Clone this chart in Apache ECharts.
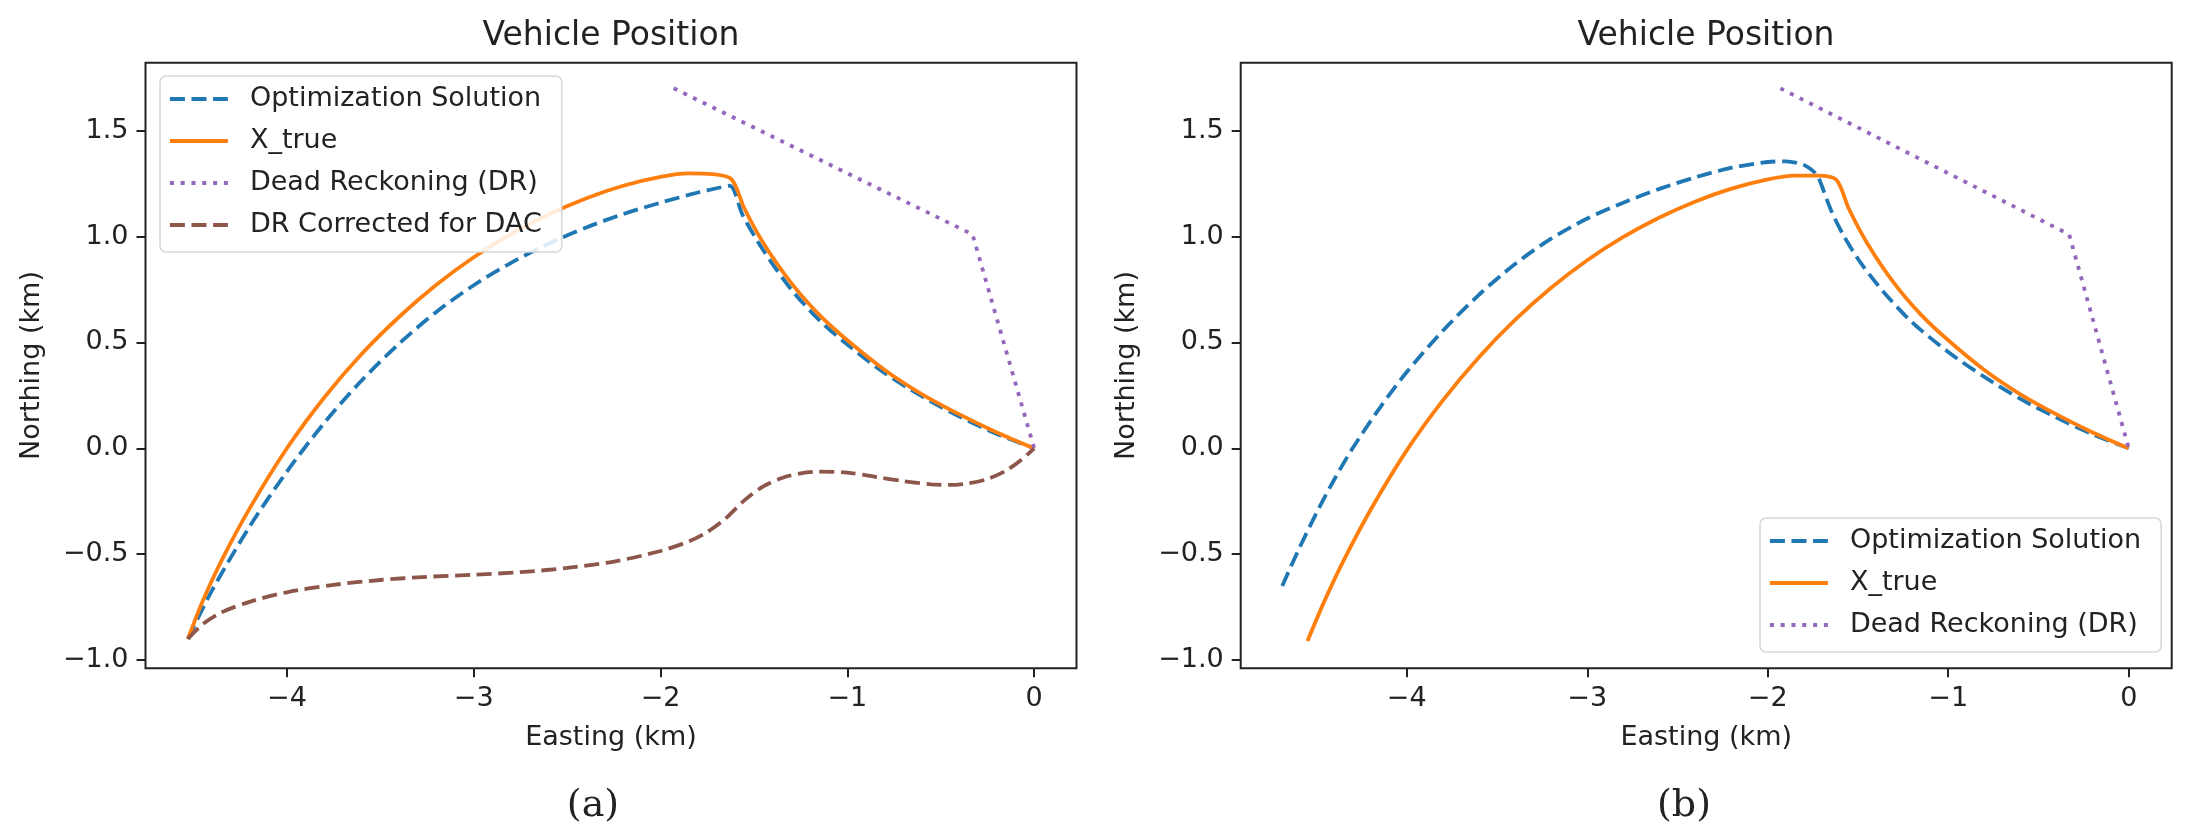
<!DOCTYPE html>
<html>
<head>
<meta charset="utf-8">
<title>Vehicle Position</title>
<script src="https://cdn.jsdelivr.net/npm/echarts@6/dist/echarts.min.js"></script>
<style>
html, body { margin: 0; padding: 0; background: #fff; }
#main { width: 2189px; height: 824px; }
</style>
</head>
<body>
<div id="main"></div>
<script>
// ---- data, km (easting, northing) ----
var xTicks = [-4, -3, -2, -1, 0];
var yTicks = [-1.0, -0.5, 0.0, 0.5, 1.0, 1.5];
var seriesNames = ['Optimization Solution', 'X_true', 'Dead Reckoning (DR)', 'DR Corrected for DAC'];
var captions = ['(a)', '(b)'];

// panel (a)
var optA = [[-4.53,-0.90],[-4.4,-0.67],[-4.2,-0.37],[-4.0,-0.11],[-3.8,0.12],[-3.6,0.32],[-3.4,0.494],[-3.2,0.644],
  [-3.0,0.77],[-2.8,0.876],[-2.6,0.966],[-2.4,1.042],[-2.2,1.106],[-2.0,1.16],[-1.8,1.208],[-1.7,1.228],[-1.63,1.24],
  [-1.56,1.10],[-1.45,0.935],[-1.3,0.75],[-1.15,0.605],[-1.0,0.49],[-0.8,0.355],[-0.6,0.245],[-0.4,0.15],[-0.2,0.068],[0,0]];
var trueA = [[-4.53,-0.90],[-4.45,-0.72],[-4.35,-0.53],[-4.2,-0.285],[-4.0,0.0],[-3.8,0.24],[-3.6,0.445],[-3.4,0.62],
  [-3.2,0.772],[-3.0,0.902],[-2.8,1.012],[-2.6,1.104],[-2.4,1.18],[-2.2,1.24],[-2.0,1.282],[-1.85,1.298],[-1.72,1.295],[-1.62,1.27],
  [-1.55,1.13],[-1.45,0.97],[-1.3,0.78],[-1.15,0.63],[-1.0,0.51],[-0.8,0.37],[-0.6,0.255],[-0.4,0.16],[-0.2,0.075],[0,0]];
var drA = [[-1.93,1.70],[-0.33,1.01],[0,0]];
var dacA = [[-4.53,-0.90],[-4.45,-0.83],[-4.35,-0.775],[-4.2,-0.725],[-4.0,-0.68],[-3.75,-0.645],[-3.5,-0.622],[-3.25,-0.607],
  [-3.0,-0.597],[-2.75,-0.585],[-2.5,-0.565],[-2.25,-0.535],[-2.0,-0.485],[-1.85,-0.44],[-1.75,-0.395],[-1.65,-0.33],
  [-1.55,-0.245],[-1.45,-0.18],[-1.35,-0.14],[-1.25,-0.118],[-1.15,-0.11],[-1.0,-0.115],[-0.85,-0.135],[-0.7,-0.155],
  [-0.55,-0.17],[-0.45,-0.173],[-0.35,-0.165],[-0.25,-0.145],[-0.15,-0.105],[-0.07,-0.055],[0,0]];

// panel (b)
var optB = [[-4.69,-0.65],[-4.6,-0.48],[-4.5,-0.305],[-4.4,-0.145],[-4.3,0.0],[-4.15,0.19],[-4.0,0.36],[-3.8,0.555],
  [-3.6,0.725],[-3.4,0.87],[-3.2,0.99],[-3.0,1.085],[-2.8,1.16],[-2.6,1.225],[-2.4,1.28],[-2.2,1.325],[-2.0,1.352],
  [-1.9,1.355],[-1.8,1.338],[-1.75,1.31],[-1.72,1.28],[-1.69,1.215],[-1.65,1.125],[-1.58,1.005],[-1.48,0.87],[-1.35,0.73],
  [-1.2,0.595],[-1.0,0.455],[-0.8,0.337],[-0.6,0.233],[-0.4,0.145],[-0.2,0.066],[0,0]];
var trueB = [[-4.55,-0.91],[-4.45,-0.71],[-4.35,-0.53],[-4.2,-0.29],[-4.0,-0.01],[-3.8,0.226],[-3.6,0.43],[-3.4,0.606],
  [-3.2,0.758],[-3.0,0.888],[-2.8,0.998],[-2.6,1.09],[-2.4,1.166],[-2.2,1.226],[-2.0,1.27],[-1.85,1.288],[-1.72,1.288],[-1.62,1.268],
  [-1.55,1.13],[-1.45,0.97],[-1.3,0.78],[-1.15,0.63],[-1.0,0.51],[-0.8,0.37],[-0.6,0.255],[-0.4,0.16],[-0.2,0.075],[0,0]];
var drB = [[-1.93,1.70],[-0.33,1.01],[0,0]];

// ---- look ----
var FONT = 'DejaVu Sans';
var INK = '#222';
var colors = ['#1f77b4', '#ff7f0e', '#9467bd', '#8c564b'];
var dashes = [[15, 6.6], 'solid', [4, 6.8], [15, 6.6]];

function tickFmt(digits) {
  return function (v) { return v.toFixed(digits).replace('-', '\u2212'); };
}

function xAxisFor(idx, min, max) {
  return {
    type: 'value', gridIndex: idx, min: min, max: max,
    name: 'Easting (km)', nameLocation: 'middle', nameGap: 56,
    nameTextStyle: { fontFamily: FONT, fontSize: 27, color: INK },
    axisLine: { show: false, onZero: false },
    axisTick: { show: true, inside: false, length: 9, customValues: xTicks, lineStyle: { color: INK, width: 2 } },
    axisLabel: { show: true, margin: 17, customValues: xTicks, formatter: tickFmt(0), fontFamily: FONT, fontSize: 27, color: INK },
    splitLine: { show: false }
  };
}
function yAxisFor(idx) {
  return {
    type: 'value', gridIndex: idx, min: -1.039, max: 1.821,
    name: 'Northing (km)', nameLocation: 'middle', nameGap: 100, nameRotate: 90,
    nameTextStyle: { fontFamily: FONT, fontSize: 27, color: INK },
    axisLine: { show: false, onZero: false },
    axisTick: { show: true, inside: false, length: 9, customValues: yTicks, lineStyle: { color: INK, width: 2 } },
    axisLabel: { show: true, margin: 17, customValues: yTicks, formatter: tickFmt(1), fontFamily: FONT, fontSize: 27, color: INK },
    splitLine: { show: false }
  };
}
function line(name, idx, data, smooth) {
  var k = seriesNames.indexOf(name);
  return {
    name: name, type: 'line', xAxisIndex: idx, yAxisIndex: idx, data: data,
    symbol: 'none', smooth: smooth, silent: true, animation: false,
    lineStyle: { color: colors[k], width: 3.8, type: dashes[k], cap: 'butt' },
    itemStyle: { color: colors[k] }
  };
}
function legendFor(names, left, top) {
  return {
    orient: 'vertical', left: left, top: top, data: names, selectedMode: false,
    itemWidth: 58, itemHeight: 14, itemGap: 12,
    padding: [8, 20, 12, 8],
    itemStyle: { opacity: 0, borderWidth: 0 },
    lineStyle: { width: 3.8 },
    backgroundColor: 'rgba(255,255,255,0.85)', borderColor: '#d6d6d6', borderWidth: 1.5, borderRadius: 6,
    textStyle: { fontFamily: FONT, fontSize: 27, color: INK, lineHeight: 30, padding: [0, 0, 0, 17] }
  };
}
function textEl(str, x, y, size, family) {
  return { type: 'text', x: x, y: y, silent: true,
    style: { text: str, font: size + 'px "' + family + '"', fill: INK, align: 'center', verticalAlign: 'middle' } };
}

var chart = echarts.init(document.getElementById('main'), null, { renderer: 'canvas' });
chart.setOption({
  animation: false,
  backgroundColor: '#fff',
  grid: [
    { left: 145.5, top: 62.7, width: 931, height: 605.6, show: true, borderColor: INK, borderWidth: 2, backgroundColor: 'transparent' },
    { left: 1240.7, top: 62.7, width: 931, height: 605.6, show: true, borderColor: INK, borderWidth: 2, backgroundColor: 'transparent' }
  ],
  xAxis: [xAxisFor(0, -4.757, 0.2265), xAxisFor(1, -4.92, 0.238)],
  yAxis: [yAxisFor(0), yAxisFor(1)],
  legend: [legendFor(seriesNames, 160, 76), legendFor(seriesNames.slice(0, 3), 1760, 518)],
  graphic: [
    textEl('Vehicle Position', 611, 36, 33, FONT),
    textEl('Vehicle Position', 1706, 36, 33, FONT),
    textEl(captions[0], 593, 806, 38, 'DejaVu Serif'),
    textEl(captions[1], 1684, 806, 38, 'DejaVu Serif')
  ],
  series: [
    line(seriesNames[0], 0, optA, 0.3),
    line(seriesNames[1], 0, trueA, 0.3),
    line(seriesNames[2], 0, drA, false),
    line(seriesNames[3], 0, dacA, 0.3),
    line(seriesNames[0], 1, optB, 0.3),
    line(seriesNames[1], 1, trueB, 0.3),
    line(seriesNames[2], 1, drB, false)
  ]
});
</script>
</body>
</html>
